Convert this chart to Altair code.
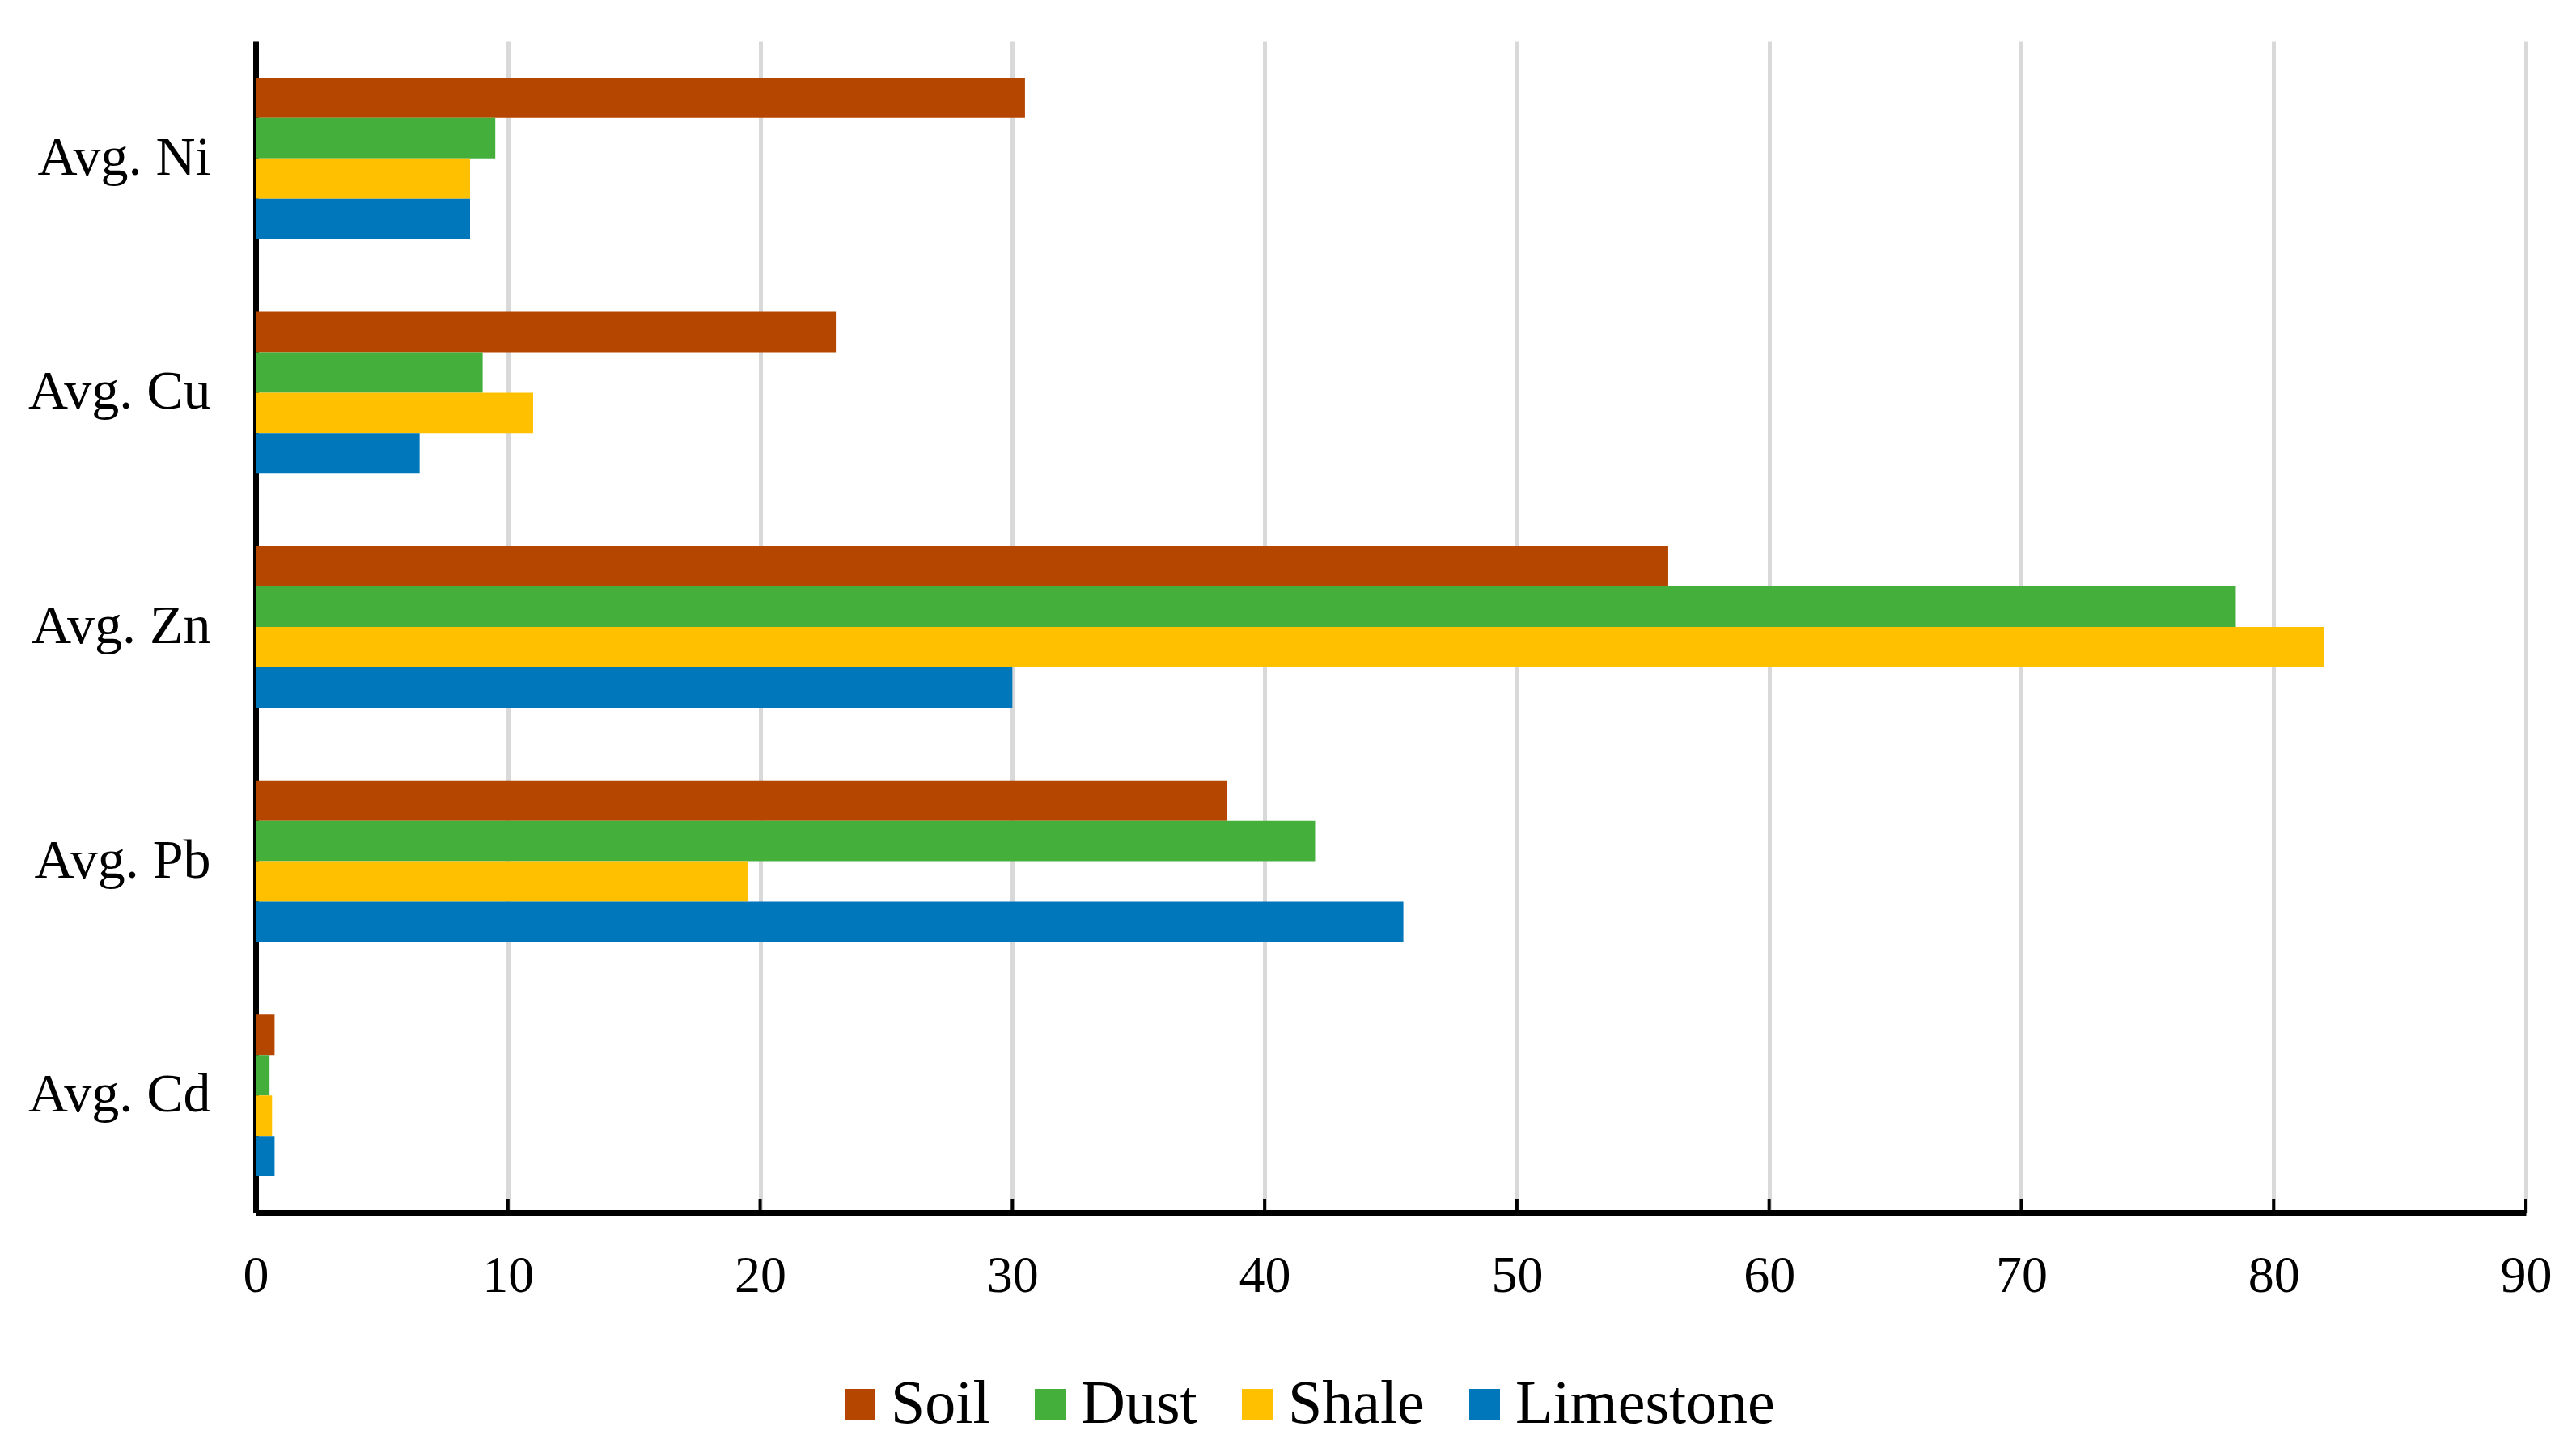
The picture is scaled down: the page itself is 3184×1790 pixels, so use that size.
import altair as alt
import pandas as pd

categories = ["Avg. Ni", "Avg. Cu", "Avg. Zn", "Avg. Pb", "Avg. Cd"]
series = ["Soil", "Dust", "Shale", "Limestone"]
soil = [30.5, 23.0, 56.0, 38.5, 0.75]
dust = [9.5, 9.0, 78.5, 42.0, 0.55]
shale = [8.5, 11.0, 82.0, 19.5, 0.65]
limestone = [8.5, 6.5, 30.0, 45.5, 0.75]
colors = ["#B54600", "#45AF3C", "#FFC000", "#0077BB"]
x_ticks = [0, 10, 20, 30, 40, 50, 60, 70, 80, 90]

rows = []
for name, vals in zip(series, [soil, dust, shale, limestone]):
    for c, v in zip(categories, vals):
        rows.append({"category": c, "series": name, "value": v})
df = pd.DataFrame(rows)
ticks_df = pd.DataFrame({"v": x_ticks})

W, H = 2806, 1448
FONT = "Liberation Serif"

bars = alt.Chart(df).mark_bar().encode(
    x=alt.X("value:Q",
            scale=alt.Scale(domain=[0, 90], nice=False),
            axis=alt.Axis(values=x_ticks, title=None, ticks=False, grid=True,
                          gridColor="#d9d9d9", gridWidth=5,
                          domainColor="black", domainWidth=7,
                          labelFont=FONT, labelFontSize=64, labelColor="black",
                          labelPadding=46, labelFlush=False, labelLimit=0)),
    y=alt.Y("category:N", sort=categories,
            scale=alt.Scale(paddingInner=0.31, paddingOuter=0.155),
            axis=alt.Axis(title=None, ticks=False, grid=False,
                          domainColor="black", domainWidth=7,
                          labelFont=FONT, labelFontSize=68, labelColor="black",
                          labelPadding=56, labelLimit=0)),
    yOffset=alt.YOffset("series:N", sort=series),
    color=alt.Color("series:N", sort=series,
                    scale=alt.Scale(domain=series, range=colors),
                    legend=alt.Legend(title=None, orient="none", direction="horizontal",
                                      legendX=709, legendY=1647,
                                      symbolType="square", symbolSize=1444,
                                      symbolStrokeWidth=0, symbolOpacity=1,
                                      labelFont=FONT, labelFontSize=76,
                                      labelColor="black", labelOffset=0,
                                      labelLimit=0,
                                      columnPadding=36, symbolOffset=0)),
)

tick_rules = alt.Chart(ticks_df).mark_rule(color="black", strokeWidth=4).encode(
    x=alt.X("v:Q"),
    y=alt.value(H),
    y2=alt.value(H - 17),
)

chart = alt.layer(bars, tick_rules).properties(
    width=W, height=H,
    background="white",
    padding={"left": 26, "top": 43, "right": 0, "bottom": 0},
).configure_view(stroke=None)

chart.save("out.html", embed_options={"renderer": "svg", "actions": False})
